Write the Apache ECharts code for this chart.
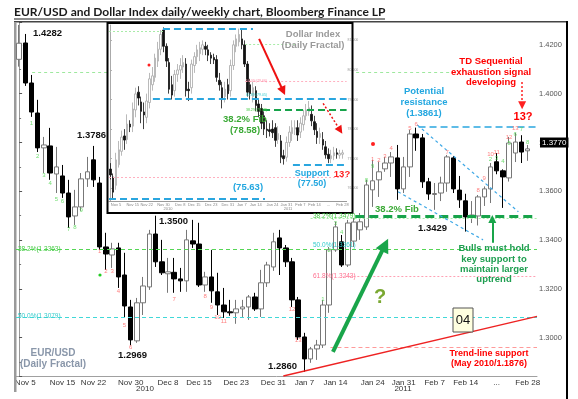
<!DOCTYPE html>
<html>
<head>
<meta charset="utf-8">
<script src="https://cdn.jsdelivr.net/npm/echarts@6/dist/echarts.min.js"></script>
<style>html,body{margin:0;padding:0;background:#fff}#chart{width:578px;height:399px}</style>
</head>
<body>
<div id="chart"></div>
<script>
// trading days shown on both panels
var dates = ['Nov 4','Nov 5','Nov 8','Nov 9','Nov 10','Nov 11','Nov 12','Nov 15','Nov 16','Nov 17','Nov 18','Nov 19',
  'Nov 22','Nov 23','Nov 24','Nov 25','Nov 26','Nov 29','Nov 30','Dec 1','Dec 2','Dec 3','Dec 6','Dec 7','Dec 8','Dec 9',
  'Dec 10','Dec 13','Dec 14','Dec 15','Dec 16','Dec 17','Dec 20','Dec 21','Dec 22','Dec 23','Dec 24','Dec 27','Dec 28',
  'Dec 29','Dec 30','Dec 31','Jan 3','Jan 4','Jan 5','Jan 6','Jan 7','Jan 10','Jan 11','Jan 12','Jan 13','Jan 14','Jan 17',
  'Jan 18','Jan 19','Jan 20','Jan 21','Jan 24','Jan 25','Jan 26','Jan 27','Jan 28','Jan 31','Feb 1','Feb 2','Feb 3','Feb 4',
  'Feb 7','Feb 8','Feb 9','Feb 10','Feb 11','Feb 14','Feb 15','Feb 16','Feb 17','Feb 18','Feb 21','Feb 22','Feb 23',
  'Feb 24','Feb 25','Feb 28'];
var dxyDates = ['Nov 3'].concat(dates);
var tickDates = ['Nov 5','Nov 15','Nov 22','Nov 30','Dec 8','Dec 15','Dec 23','Dec 31','Jan 7','Jan 14','Jan 24',
  'Jan 31','Feb 7','Feb 14','Feb 21','Feb 28'];

// EUR/USD daily: open, high, low, close
var eurCandles = [
  [1.4141,1.4282,1.4111,1.4207],[1.4208,1.4245,1.4032,1.4044],[1.4044,1.4077,1.3905,1.3925],[1.3921,1.3975,1.3761,1.3778],
  [1.3778,1.3823,1.3675,1.3790],[1.3786,1.3860,1.3647,1.3675],[1.3671,1.3782,1.3593,1.3700],[1.3663,1.3708,1.3573,1.3593],
  [1.3593,1.3647,1.3450,1.3495],[1.3499,1.3606,1.3462,1.3536],[1.3536,1.3675,1.3520,1.3651],[1.3651,1.3741,1.3618,1.3680],
  [1.3729,1.3786,1.3618,1.3647],[1.3634,1.3659,1.3360,1.3372],[1.3372,1.3430,1.3278,1.3343],[1.3339,1.3389,1.3286,1.3364],
  [1.3368,1.3389,1.3204,1.3249],[1.3257,1.3348,1.3081,1.3130],[1.3126,1.3155,1.2969,1.2991],[1.2987,1.3163,1.2979,1.3143],
  [1.3143,1.3249,1.3093,1.3212],[1.3208,1.3442,1.3196,1.3425],[1.3425,1.3500,1.3290,1.3311],[1.3311,1.3401,1.3257,1.3266],
  [1.3262,1.3327,1.3184,1.3270],[1.3268,1.3327,1.3184,1.3241],[1.3241,1.3286,1.3188,1.3233],[1.3233,1.3442,1.3188,1.3401],
  [1.3397,1.3483,1.3368,1.3384],[1.3384,1.3471,1.3208,1.3216],[1.3216,1.3270,1.3188,1.3249],[1.3249,1.3360,1.3143,1.3192],
  [1.3188,1.3266,1.3093,1.3134],[1.3134,1.3204,1.3081,1.3106],[1.3106,1.3155,1.3090,1.3102],[1.3102,1.3155,1.3057,1.3118],
  [1.3118,1.3155,1.3085,1.3126],[1.3126,1.3175,1.3073,1.3167],[1.3167,1.3184,1.3110,1.3118],[1.3118,1.3278,1.3085,1.3225],
  [1.3225,1.3311,1.3208,1.3298],[1.3290,1.3430,1.3274,1.3393],[1.3409,1.3442,1.3257,1.3368],[1.3368,1.3380,1.3290,1.3311],
  [1.3311,1.3327,1.3126,1.3155],[1.3155,1.3167,1.2991,1.3003],[1.3003,1.3020,1.2860,1.2913],[1.2913,1.2962,1.2897,1.2954],
  [1.2954,1.2991,1.2909,1.2970],[1.2970,1.3155,1.2958,1.3134],[1.3134,1.3372,1.3102,1.3360],[1.3360,1.3475,1.3352,1.3454],
  [1.3393,1.3421,1.3290,1.3298],[1.3298,1.3483,1.3290,1.3470],[1.3396,1.3491,1.3372,1.3474],[1.3442,1.3511,1.3401,1.3475],
  [1.3454,1.3647,1.3442,1.3626],[1.3606,1.3729,1.3536,1.3643],[1.3647,1.3721,1.3577,1.3680],[1.3692,1.3741,1.3680,1.3716],
  [1.3716,1.3761,1.3659,1.3741],[1.3737,1.3790,1.3565,1.3610],[1.3610,1.3741,1.3593,1.3700],[1.3700,1.3852,1.3659,1.3835],
  [1.3835,1.3861,1.3766,1.3819],[1.3819,1.3835,1.3614,1.3639],[1.3639,1.3655,1.3565,1.3589],[1.3587,1.3634,1.3524,1.3591],
  [1.3593,1.3660,1.3560,1.3634],[1.3634,1.3749,1.3598,1.3741],[1.3737,1.3745,1.3593,1.3610],[1.3605,1.3663,1.3532,1.3565],
  [1.3561,1.3590,1.3435,1.3495],[1.3499,1.3560,1.3470,1.3503],[1.3499,1.3585,1.3460,1.3577],[1.3577,1.3620,1.3540,1.3610],
  [1.3610,1.3716,1.3552,1.3700],[1.3721,1.3757,1.3670,1.3684],[1.3684,1.3690,1.3532,1.3659],[1.3655,1.3823,1.3640,1.3798],
  [1.3757,1.3840,1.3720,1.3802],[1.3802,1.3830,1.3716,1.3761],[1.3766,1.3790,1.3725,1.3774]
];

// Dollar Index daily (inset): open, high, low, close
var dxyCandles = [
  [76.65,76.85,76.30,76.45],[76.38,76.50,75.63,75.87],[76.10,77.20,75.95,76.96],[76.80,77.60,76.70,77.30],
  [77.25,77.95,77.10,77.73],[77.77,78.00,77.30,77.63],[77.65,78.50,77.50,78.17],[78.17,78.30,77.90,78.07],
  [78.10,78.90,77.90,78.68],[78.65,79.40,78.40,79.19],[79.25,79.45,78.80,79.05],[78.92,79.10,78.20,78.60],
  [78.58,78.90,78.00,78.48],[78.40,79.20,78.20,78.95],[78.90,79.90,78.70,79.70],[79.50,80.10,79.30,79.80],
  [79.75,80.55,79.60,80.40],[80.30,80.95,80.10,80.70],[80.70,81.35,80.50,81.20],[81.35,81.44,80.60,80.80],
  [80.80,80.90,80.10,80.30],[80.25,80.40,79.20,79.35],[79.50,79.80,79.00,79.15],[79.30,80.00,79.10,79.85],
  [79.85,80.20,79.60,80.00],[80.00,80.40,79.70,80.15],[80.10,80.50,79.90,80.25],[80.20,80.40,79.10,79.30],
  [79.35,79.60,78.95,79.30],[79.40,80.35,79.20,80.20],[80.15,80.60,79.90,80.45],[80.45,80.85,80.20,80.68],
  [80.55,80.95,80.30,80.75],[80.70,81.00,80.50,80.85],[80.80,80.95,80.50,80.70],[80.68,80.85,80.30,80.50],
  [80.50,80.60,80.20,80.40],[80.42,80.55,80.20,80.34],[80.35,80.50,79.60,79.75],[79.65,79.90,79.30,79.50],
  [79.40,79.60,78.70,79.00],[79.10,79.60,78.90,79.35],[79.50,79.70,79.00,79.20],[79.30,80.35,79.10,80.15],
  [80.15,81.00,80.00,80.85],[80.80,81.20,80.60,81.05],[80.95,81.40,80.80,81.20],[81.05,81.35,80.70,80.85],
  [80.85,81.00,80.10,80.20],[80.20,80.30,79.10,79.25],[79.50,79.70,79.00,79.20],[79.10,79.60,78.90,79.40],
  [79.30,79.45,78.60,78.80],[78.85,79.00,78.40,78.60],[78.70,78.85,78.00,78.20],[78.45,78.60,77.80,78.00],
  [78.00,78.30,77.70,77.95],[77.98,78.20,77.75,77.92],[78.00,78.30,77.70,77.88],[78.05,78.20,77.40,77.62],
  [77.65,78.10,77.50,77.85],[77.60,77.80,76.85,77.05],[77.10,77.30,76.80,77.00],[77.05,77.75,76.90,77.55],
  [77.55,78.10,77.40,77.90],[77.85,78.30,77.60,78.05],[78.00,78.30,77.80,78.05],[78.05,78.30,77.60,77.80],
  [77.90,78.40,77.70,78.20],[78.15,78.65,77.95,78.45],[78.45,78.85,78.30,78.65],[78.60,78.95,78.45,78.72],
  [78.50,78.80,78.10,78.28],[78.25,78.45,77.80,77.98],[77.92,78.20,77.50,77.72],[77.72,78.05,77.50,77.85],
  [77.65,77.90,77.30,77.46],[77.40,77.60,77.00,77.13],[77.15,77.35,76.85,77.00],[77.00,77.30,76.85,77.10],
  [77.10,77.40,76.95,77.20],[77.20,77.35,77.00,77.15],[77.12,77.30,77.00,77.18],[77.15,77.30,77.00,77.20]
];

// TD Sequential counts on the EUR/USD panel: [day index, price level, count, r=countdown / g=setup]
var tdCounts = [
  [2,1.3880,'1','g'],[3,1.3745,'2','g'],[4,1.3667,'3','g'],[5,1.3634,'4','g'],[6,1.3569,'5','g'],[7,1.3557,'6','g'],
  [8,1.3446,'7','g'],[9,1.3454,'8','g'],[10,1.3520,'9','g'],
  [13,1.3352,'1','r'],[14,1.3274,'2','r'],[15,1.3274,'3','r'],[16,1.3188,'4','r'],[17,1.3052,'5','r'],[18,1.2962,'6','r'],
  [25,1.3159,'7','r'],[30,1.3171,'8','r'],[31,1.3126,'9','r'],[32,1.3085,'10','r'],[33,1.3065,'11','r'],
  [44,1.3118,'12','r'],[45,1.2991,'13','r'],
  [49,1.3159,'1','g'],[50,1.3360,'2','g'],[51,1.3470,'3','g'],[52,1.3430,'4','g'],[56,1.3643,'8','g'],[57,1.3704,'9','g'],
  [57,1.3729,'1','r'],[58,1.3725,'2','r'],[59,1.3745,'3','r'],[60,1.3778,'4','r'],[63,1.3860,'5','r'],[64,1.3876,'6','r'],
  [69,1.3761,'7','r'],[74,1.3606,'8','r'],[75,1.3655,'9','r'],[76,1.3753,'10','r'],[77,1.3761,'11','r'],
  [79,1.3823,'12','r'],[80,1.3860,'13','r'],
  [76,1.3729,'2','g'],[77,1.3737,'3','g'],[78,1.3721,'4','g'],[79,1.3798,'5','g'],[80,1.3835,'6','g'],
  [81,1.3852,'7','g'],[82,1.3802,'8','g']
];

var lastPrice = 1.3770;

// drawn levels / trend lines (day index, price)
var eurLevels = [
  [[2.1,1.4089],[69.5,1.4089],'#9ee89e',[3,3],1],
  [[-0.5,1.3364],[83.5,1.3364],'#55d655',[4,3],1],
  [[-0.5,1.3085],[83.5,1.3085],'#40d8d8',[4,3],1],
  [[52.6,1.3253],[83.5,1.3253],'#ffa0b4',[2,2],1],
  [[50.2,1.2962],[83.5,1.2962],'#ff9a9a',[4,3],1],
  [[47,1.3491],[83.5,1.3491],'#a8eca8',[2,2],1],
  [[54.2,1.3499],[83.5,1.3499],'#17a34a',[9,5],3],
  [[64.4,1.3866],[83.5,1.3866],'#2aa6df',[7,4],1.5],
  [[64.2,1.3872],[80.5,1.3516],'#3ea8e6',[3,3],1.2],
  [[61.1,1.3598],[74.8,1.3401],'#3ea8e6',[3,3],1.2],
  [[42.6,1.2843],[83.5,1.3087],'#ee2222','solid',1.3]
];
var eurArrows = [
  [[50.6,1.2942],[59.0,1.3380],'#19a54a','solid',4,14],
  [[76.3,1.3389],[76.3,1.3487],'#19a54a','solid',2,8],
  [[81.1,1.4048],[81.1,1.3953],'#ff2020',[2,2],1.5,8]
];
var dxyLevels = [
  [[-0.5,81.32],[18.8,81.32],'#a8eca8',[2,2],1],
  [[18.8,81.39],[51,81.39],'#2aa6df',[7,4],1.8],
  [[48.2,80.88],[66,80.88],'#a8eca8',[2,2],1],
  [[48.2,79.63],[84.5,79.63],'#ffb0c0',[2,2],1],
  [[15.2,79.02],[84.5,79.02],'#2aa6df',[7,4],1.8],
  [[54.6,78.65],[84.5,78.65],'#17a34a',[7,4],2],
  [[65.3,76.79],[84.5,76.79],'#2aa6df',[7,4],1.8],
  [[-0.5,76.38],[84.5,76.38],'#ffb0c0',[2,2],1],
  [[-0.5,75.66],[55.3,75.66],'#2aa6df',[7,4],1.8]
];
var dxyArrows = [
  [[53.2,81.05],[61.8,79.29],'#ee1111','solid',2,9],
  [[76.1,78.87],[82.2,77.96],'#ee1111',[2,2],1.5,8]
];

var chart = echarts.init(document.getElementById('chart'));
var FONT = 'Liberation Sans';

function toK(rows) {
    return rows.map(function (r) { return [r[0], r[3], r[2], r[1]]; });
}
function segs(list) {
    return list.map(function (l) {
        return [
            {coord: l[0], symbol: 'none', lineStyle: {color: l[2], type: l[3], width: l[4]}},
            {coord: l[1], symbol: l[5] ? 'triangle' : 'none', symbolSize: l[5] || 0}
        ];
    });
}
function showDate(idx, val) { return tickDates.indexOf(val) >= 0; }
function fmtDate(val) { return val === 'Feb 21' ? '...' : val; }

function txt(t, x, y, color, size, align, weight) {
    return {
        type: 'text', z: 80, silent: true,
        style: {
            text: t, x: x, y: y, fill: color,
            font: (weight || 'bold') + ' ' + size + 'px "' + FONT + '"',
            align: align || 'center', verticalAlign: 'middle',
            textAlign: align || 'center', textVerticalAlign: 'middle'
        }
    };
}

var notes = [
    txt('1.4282', 33, 33, '#111', 9.5, 'left'),
    txt('1.3786', 77, 135, '#111', 9.5, 'left'),
    txt('1.3500', 159, 221, '#111', 9.5, 'left'),
    txt('1.2969', 118, 355, '#111', 9.5, 'left'),
    txt('1.2860', 268, 366, '#111', 9.5, 'left'),
    txt('1.3429', 418, 228, '#111', 9.5, 'left'),
    txt('EUR/USD', 53, 353, '#8a97aa', 10),
    txt('(Daily Fractal)', 53, 364, '#8a97aa', 10),
    txt('Potential', 424, 91, '#22a7e0', 9.5),
    txt('resistance', 424, 102, '#22a7e0', 9.5),
    txt('(1.3861)', 424, 113, '#22a7e0', 9.5),
    txt('TD Sequential', 491, 61, '#ff0000', 9.5),
    txt('exhaustion signal', 491, 72, '#ff0000', 9.5),
    txt('developing', 491, 82, '#ff0000', 9.5),
    txt('13?', 523, 117, '#ff0000', 11),
    txt('38.2% Fib', 397, 209, '#3aa935', 9.5),
    txt('Bulls must hold', 494, 248, '#1e9e50', 9.5),
    txt('key support to', 494, 259, '#1e9e50', 9.5),
    txt('maintain larger', 494, 269, '#1e9e50', 9.5),
    txt('uptrend', 494, 279, '#1e9e50', 9.5),
    txt('Trend-line support', 489, 354, '#ff0000', 9),
    txt('(May 2010/1.1876)', 489, 364, '#ff0000', 9),
    txt('?', 380, 297, '#7aa832', 20),
    txt('38.2%(1.3363)', 18, 249, '#44cc44', 6.5, 'left', 'normal'),
    txt('50.0%(1.3079)', 18, 316, '#33cccc', 6.5, 'left', 'normal'),
    txt('38.2%(1.3479)', 313, 216, '#44cc44', 6.5, 'left', 'normal'),
    txt('50.0%(1.3361)', 313, 245, '#33cccc', 6.5, 'left', 'normal'),
    txt('61.8%(1.3243)', 313, 276, '#ff6f8f', 6.5, 'left', 'normal'),
    txt('2010', 145, 389, '#333', 8, 'center', 'normal'),
    txt('2011', 403, 389, '#333', 8, 'center', 'normal'),
    // inset
    txt('Dollar Index', 313, 34, '#9a9a9a', 9.5),
    txt('(Daily Fractal)', 313, 45, '#9a9a9a', 9.5),
    txt('38.2% Fib', 245, 119, '#3aa935', 9.5),
    txt('(78.58)', 245, 130, '#3aa935', 9.5),
    txt('Support', 312, 174, '#22a7e0', 9),
    txt('(77.50)', 312, 184, '#22a7e0', 9),
    txt('13?', 342, 174, '#ff2020', 9.5),
    txt('(75.63)', 248, 187, '#22a7e0', 9.5),
    txt('50.0%(79.66)', 246, 81, '#ff8fa8', 3.5, 'left', 'normal'),
    txt('61.8%(79.05)', 246, 95, '#33cccc', 3.5, 'left', 'normal'),
    txt('38.2%(78.58)', 246, 110, '#44cc44', 3.5, 'left', 'normal'),
    txt('2010', 168, 209, '#888', 4, 'center', 'normal'),
    txt('2011', 288, 209, '#888', 4, 'center', 'normal')
];

var frame = [
    {type: 'text', z: 80, style: {text: 'EUR/USD and Dollar Index daily/weekly chart, Bloomberg Finance LP', x: 14, y: 12,
        fill: '#1a1a1a', font: 'bold 12px Lato', align: 'left', verticalAlign: 'middle',
        textAlign: 'left', textVerticalAlign: 'middle'}},
    {type: 'rect', z: 80, shape: {x: 14, y: 18.5, width: 371, height: 1}, style: {fill: '#1a1a1a'}},
    {type: 'rect', z: 1, shape: {x: 14, y: 21, width: 554, height: 1.5}, style: {fill: '#444'}},
    {type: 'rect', z: 1, shape: {x: 14, y: 22, width: 2.5, height: 370}, style: {fill: '#9a9a9a'}},
    {type: 'rect', z: 80, shape: {x: 566, y: 21, width: 2, height: 378}, style: {fill: '#000'}},
    {type: 'rect', z: 50, shape: {x: 107.5, y: 23, width: 245, height: 190}, style: {fill: '#fff'}},
    {type: 'rect', z: 70, shape: {x: 107.5, y: 23, width: 245, height: 190}, style: {fill: 'none', stroke: '#000', lineWidth: 2}},
    {type: 'circle', z: 80, shape: {cx: 373, cy: 144, r: 2}, style: {fill: '#ff2020'}},
    {type: 'circle', z: 80, shape: {cx: 100, cy: 275, r: 1.6}, style: {fill: '#22cc22'}},
    {type: 'circle', z: 80, shape: {cx: 149, cy: 65, r: 1.5}, style: {fill: '#ff2020'}},
    {type: 'rect', z: 80, shape: {x: 453, y: 308, width: 20, height: 24}, style: {fill: '#ffffe0', stroke: '#555', lineWidth: 1}},
    txt('04', 463, 320, '#111', 13, 'center', 'normal')
];

var option = {
    animation: false,
    backgroundColor: '#fff',
    grid: [
        {left: 16, right: 41, top: 22, bottom: 23, show: false},
        {left: 109, right: 231.4, top: 25, bottom: 198, show: false}
    ],
    xAxis: [
        {
            type: 'category', gridIndex: 0, data: dates.concat(['']), boundaryGap: true,
            axisLine: {lineStyle: {color: '#a0a0a0'}},
            axisTick: {alignWithLabel: true, interval: showDate, length: 3, lineStyle: {color: '#888'}},
            axisLabel: {interval: showDate, formatter: fmtDate, fontSize: 8, color: '#333', margin: 3, fontFamily: FONT},
            splitLine: {show: false}
        },
        {type: 'value', gridIndex: 0, min: -0.5, max: 83.5, show: false},
        {
            type: 'category', gridIndex: 1, data: dxyDates.concat(['']), boundaryGap: true, z: 55,
            axisLine: {lineStyle: {color: '#999'}},
            axisTick: {alignWithLabel: true, interval: showDate, length: 1.5, lineStyle: {color: '#999'}},
            axisLabel: {interval: showDate, formatter: fmtDate, fontSize: 4, color: '#888', margin: 1.5, fontFamily: FONT},
            splitLine: {show: false}
        },
        {type: 'value', gridIndex: 1, min: -0.5, max: 84.5, show: false}
    ],
    yAxis: [
        {
            type: 'value', gridIndex: 0, position: 'right', min: 1.2843, max: 1.4294,
            minInterval: 0.02, maxInterval: 0.02,
            axisLine: {show: true, lineStyle: {color: '#999'}},
            axisTick: {show: true, length: 3, lineStyle: {color: '#555'}},
            minorTick: {show: true, splitNumber: 2, length: 2, lineStyle: {color: '#777'}},
            axisLabel: {formatter: function (v) { return v.toFixed(4); }, showMinLabel: false, showMaxLabel: false,
                fontSize: 7.5, color: '#555', margin: 2, fontFamily: FONT},
            splitLine: {show: false}
        },
        {
            type: 'value', gridIndex: 1, position: 'right', min: 75.57, max: 81.52, z: 55,
            minInterval: 1, maxInterval: 1,
            axisLine: {show: true, lineStyle: {color: '#aaa'}},
            axisTick: {show: true, length: 1.5, lineStyle: {color: '#aaa'}},
            axisLabel: {formatter: function (v) { return v.toFixed(3); }, showMinLabel: false, showMaxLabel: false,
                fontSize: 3.5, color: '#999', margin: 1, fontFamily: FONT},
            splitLine: {show: false}
        }
    ],
    series: [
        {
            type: 'candlestick', name: 'EUR/USD', xAxisIndex: 0, yAxisIndex: 0, z: 2,
            data: toK(eurCandles), barWidth: 5,
            itemStyle: {color: '#fff', color0: '#000', borderColor: '#777', borderColor0: '#000', borderWidth: 1},
            markLine: {
                silent: true, symbol: 'none', z: 90,
                data: [{yAxis: lastPrice}],
                lineStyle: {color: 'rgba(0,0,0,0)', width: 0},
                label: {show: true, position: 'end', formatter: lastPrice.toFixed(4), backgroundColor: '#000', color: '#fff',
                    fontSize: 8, fontFamily: FONT, padding: [1, 2, 1, 2], distance: 3}
            }
        },
        {
            type: 'line', xAxisIndex: 1, yAxisIndex: 0, data: [], z: 3,
            markLine: {silent: true, z: 3, symbol: ['none', 'none'], label: {show: false}, data: segs(eurLevels)}
        },
        {
            type: 'line', xAxisIndex: 1, yAxisIndex: 0, data: [], z: 4,
            markLine: {silent: true, z: 4, label: {show: false}, data: segs(eurArrows)}
        },
        {
            type: 'scatter', xAxisIndex: 1, yAxisIndex: 0, z: 4, symbolSize: 1,
            itemStyle: {color: 'rgba(0,0,0,0)'},
            label: {show: true, position: 'inside', fontSize: 6, fontFamily: FONT},
            data: tdCounts.map(function (d) {
                return {value: [d[0], d[1]], label: {formatter: d[2], color: d[3] === 'r' ? '#ff6060' : '#4fd64f'}};
            })
        },
        {
            type: 'candlestick', name: 'Dollar Index', xAxisIndex: 2, yAxisIndex: 1, z: 60,
            data: toK(dxyCandles), barWidth: 2,
            itemStyle: {color: '#fff', color0: '#111', borderColor: '#a8a8a8', borderColor0: '#111', borderWidth: 0.8}
        },
        {
            type: 'line', xAxisIndex: 3, yAxisIndex: 1, data: [], z: 61,
            markLine: {silent: true, z: 61, symbol: ['none', 'none'], label: {show: false}, data: segs(dxyLevels)}
        },
        {
            type: 'line', xAxisIndex: 3, yAxisIndex: 1, data: [], z: 62,
            markLine: {silent: true, z: 62, label: {show: false}, data: segs(dxyArrows)}
        }
    ],
    graphic: {elements: frame.concat(notes)}
};

chart.setOption(option);
window.addEventListener('resize', function () { chart.resize(); });
</script>
</body>
</html>
